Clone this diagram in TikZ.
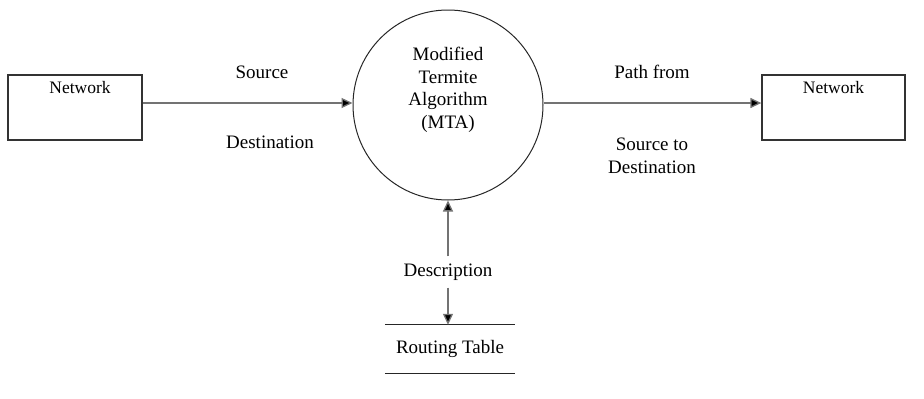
\documentclass[tikz,border=0pt]{standalone}
\usepackage{fontspec}
\setmainfont{Liberation Serif}
\usetikzlibrary{arrows.meta}
\begin{document}
\begin{tikzpicture}[x=1pt,y=-1pt,
  every node/.style={font=\fontsize{19}{22.5}\selectfont, text=black, align=center},
  entity/.style={draw=black!80, line width=1.3pt, rectangle, minimum height=65pt, inner sep=0pt},
  process/.style={draw=black!85, line width=1pt, circle, minimum size=190pt, inner sep=0pt},
  flow/.style={draw=black!55, line width=1.3pt, -{Triangle[length=11pt,width=10pt,fill=black]}},
  store/.style={minimum width=130pt, minimum height=48pt, inner sep=0pt},
  label/.style={inner sep=1pt},
  boxtext/.style={inner sep=1pt, font=\fontsize{17.5}{21}\selectfont}]
  \useasboundingbox (0,0) rectangle (924,399);

  % external entities and the central process
  \node[entity, minimum width=134pt] (netL) at (75,107.5) {};
  \node[boxtext] (netLt) at (80,88) {Network};
  \node[process] (mta) at (448,105) {};
  \node[label] (mtat) at (448,90) {Modified\\Termite\\Algorithm\\(MTA)};
  \node[entity, minimum width=143pt] (netR) at (833.5,107.5) {};
  \node[boxtext] (netRt) at (833.5,88) {Network};

  % data store
  \node[store] (rt) at (450,349) {Routing Table};
  \draw[black!85, line width=1.2pt] (rt.north west) -- (rt.north east);
  \draw[black!85, line width=1.2pt] (rt.south west) -- (rt.south east);

  % flow labels
  \node[label] (src) at (262,72) {Source};
  \node[label] (dst) at (270,142) {Destination};
  \node[label] (path) at (652,72) {Path from};
  \node[label] (s2d) at (652,156) {Source to\\Destination};
  \node[label] (desc) at (448,272) {Description};

  % data flows
  \draw[flow] (netL.east |- 0,103) coordinate (a1) -- (mta.west |- a1);
  \draw[flow] (mta.east |- 0,103) coordinate (a2) -- (netR.west |- a2);
  \draw[flow] ([yshift=6pt]desc.north) -- (mta.south);
  \draw[flow] ([yshift=-6pt]desc.south) -- (desc.south |- rt.north);
\end{tikzpicture}
\end{document}
